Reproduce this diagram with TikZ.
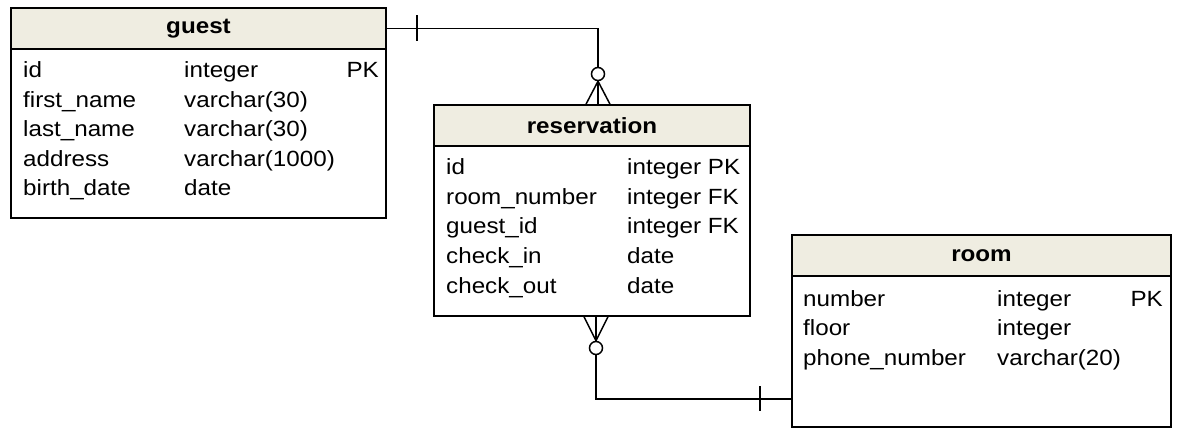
\documentclass[tikz,border=0pt]{standalone}
\usepackage{fontspec}
\setmainfont{Liberation Sans}[FakeStretch=1.1]
\usetikzlibrary{calc}
\definecolor{headfill}{RGB}{239,237,225}
\tikzset{
  tablehead/.style={draw, line width=1.6pt, fill=headfill, inner sep=0pt,
    font=\fontsize{22}{26}\selectfont\bfseries},
  tablebody/.style={draw, line width=1.6pt, fill=white, inner sep=0pt},
  field/.style={inner sep=0pt, anchor=base west, font=\fontsize{22}{26}\selectfont},
  keyfield/.style={field, anchor=base east},
  optcircle/.style={draw, circle, line width=1.5pt, fill=white, minimum size=13pt, inner sep=0pt},
  link/.style={line width=1.5pt}
}
\begin{document}
\begin{tikzpicture}[x=1pt, y=-1pt]
\useasboundingbox (0,0) rectangle (1180,446);
% tables
\node[tablebody, minimum width=375pt, minimum height=169pt] (guestbody) at (198.5,133.5) {};
\node[tablehead, minimum width=375pt, minimum height=41pt] (guest) at (198.5,28.5) {guest};
\node[tablebody, minimum width=316pt, minimum height=170pt] (reservationbody) at (592,231) {};
\node[tablehead, minimum width=316pt, minimum height=41pt] (reservation) at (592,125.5) {reservation};
\node[tablebody, minimum width=379pt, minimum height=151pt] (roombody) at (981.5,351.5) {};
\node[tablehead, minimum width=379pt, minimum height=41pt] (room) at (981.5,255.5) {room};
% fields
\foreach \fname/\ftype [count=\i] in {id/integer, first\_name/varchar(30), last\_name/varchar(30),
    address/varchar(1000), birth\_date/date}{
  \node[field] at (23,{78+29.5*(\i-1)}) {\fname};
  \node[field] at (184,{78+29.5*(\i-1)}) {\ftype};
}
\node[keyfield] (guestpk) at (379,78) {PK};
\foreach \fname/\ftype [count=\i] in {id/integer PK, room\_number/integer FK, guest\_id/integer FK,
    check\_in/date, check\_out/date}{
  \node[field] at (446,{175+29.5*(\i-1)}) {\fname};
  \node[field] at (627,{175+29.5*(\i-1)}) {\ftype};
}
\foreach \fname/\ftype [count=\i] in {number/integer, floor/integer, phone\_number/varchar(20)}{
  \node[field] at (803,{306+29.5*(\i-1)}) {\fname};
  \node[field] at (997,{306+29.5*(\i-1)}) {\ftype};
}
\node[keyfield] (roompk) at (1163,306) {PK};
% guest -- reservation
\node[optcircle] (guestcircle) at (598,74) {};
\draw[link] (guest.east) -| (guestcircle.north);
\draw[link] ($(guest.east)+(30,-13)$) -- ++(0,26);
\foreach \dx in {-12,0,12}
  \draw[link] (guestcircle.south) -- ($(reservation.north)+(6+\dx,0)$);
% reservation -- room
\node[optcircle] (roomcircle) at (596,348) {};
\coordinate (roomlink) at ($(roombody.south west)+(0,-29)$);
\draw[link] (roomcircle.south) |- (roomlink);
\draw[link] ($(roomlink)+(-31,-12.5)$) -- ++(0,25);
\foreach \dx in {-12,0,12}
  \draw[link] (roomcircle.north) -- ($(reservationbody.south)+(4+\dx,0)$);
\end{tikzpicture}
\end{document}
